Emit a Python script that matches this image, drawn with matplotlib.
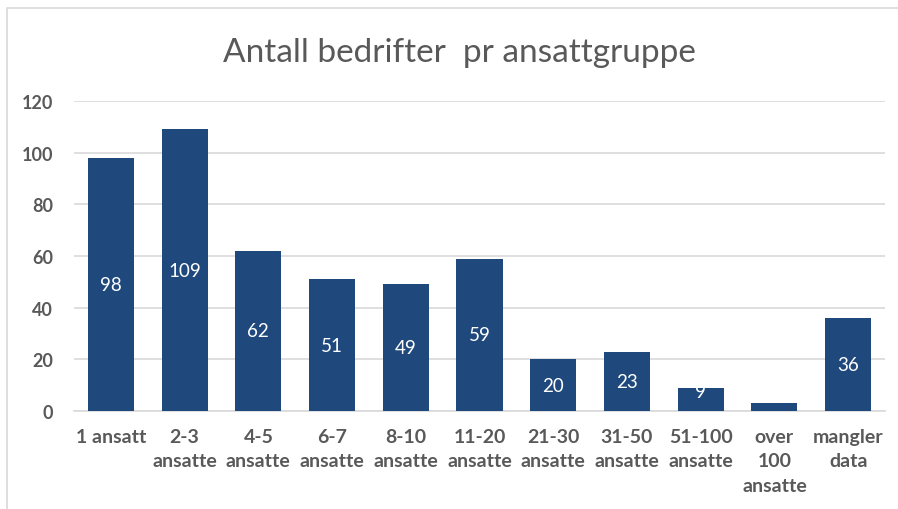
import matplotlib
matplotlib.use("Agg")
import matplotlib.pyplot as plt
import matplotlib.patches as mpatches
import numpy as np

categories = ["1 ansatt", "2-3\nansatte", "4-5\nansatte", "6-7\nansatte", "8-10\nansatte",
              "11-20\nansatte", "21-30\nansatte", "31-50\nansatte", "51-100\nansatte",
              "over\n100\nansatte", "mangler\ndata"]
counts = [98, 109, 62, 51, 49, 59, 20, 23, 9, 3, 36]
yticks = [0, 20, 40, 60, 80, 100, 120]

BAR = "#1F497D"
GREY = "#595959"
plt.rcParams["font.family"] = ["Lato", "DejaVu Sans"]

W, H = 898, 510
fig = plt.figure(figsize=(W / 100, H / 100), dpi=100)
fig.patch.set_facecolor("white")

# chart frame (runs off right/bottom edge like the screenshot)
fig.patches.append(mpatches.Rectangle((7 / W, -0.1), 1.2, 1 - 9 / H + 0.1,
                                      transform=fig.transFigure, fill=False,
                                      edgecolor="#D9D9D9", linewidth=1.2))

ax = fig.add_axes([74 / W, 1 - 412 / H, (885 - 74) / W, (412 - 102) / H])
x = np.arange(len(categories))
bars = ax.bar(x, counts, width=0.625, color=BAR, zorder=3)
ax.set_xlim(-0.5, len(categories) - 0.5)
ax.set_ylim(0, 120)
ax.yaxis.grid(True, color="#D9D9D9", linewidth=1.2, zorder=0)
for s in ["top", "right", "left"]:
    ax.spines[s].set_visible(False)
ax.spines["bottom"].set_color("#D9D9D9")
ax.spines["bottom"].set_linewidth(1.2)
ax.tick_params(length=0)
ax.tick_params(axis="y", pad=15, labelcolor=GREY)
ax.tick_params(axis="x", pad=12, labelcolor=GREY)
ax.set_yticks(yticks)
ax.set_yticklabels([str(t) for t in yticks], fontsize=13, fontweight="bold")
ax.set_xticks(x)
ax.set_xticklabels(categories, linespacing=1.55, va="top",
                   fontsize=14, fontweight="bold")

# white data labels centred in bars
for xi, v in zip(x, counts):
    ax.text(xi, max(v / 2, 7.5), str(v), ha="center", va="center",
            color="white", fontsize=13.5, zorder=4)

fig.text(459 / W, 1 - 53 / H, "Antall bedrifter  pr ansattgruppe", ha="center",
         va="center", fontsize=24, color=GREY)

fig.savefig("out.png", dpi=100)
